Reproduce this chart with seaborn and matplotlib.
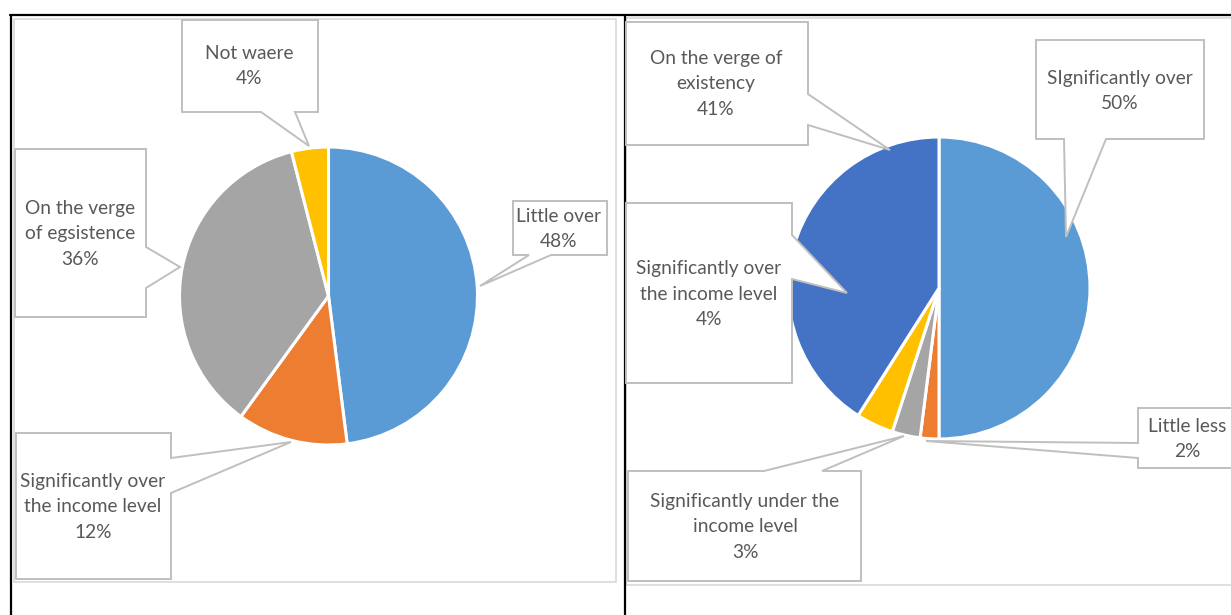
import matplotlib
matplotlib.use("Agg")
import matplotlib.pyplot as plt
from matplotlib.patches import Polygon, Rectangle
from matplotlib.lines import Line2D
import seaborn as sns

# ---------------- data ----------------
left_categories = ["Little over", "Significantly over\nthe income level",
                   "On the verge\nof egsistence", "Not waere"]
left_values = [48, 12, 36, 4]
left_colors = ["#5B9BD5", "#ED7D31", "#A5A5A5", "#FFC000"]

right_categories = ["SIgnificantly over", "Little less",
                    "Significantly under the\nincome level",
                    "Significantly over\nthe income level",
                    "On the verge of\nexistency"]
right_values = [50, 2, 3, 4, 41]
right_colors = ["#5B9BD5", "#ED7D31", "#A5A5A5", "#FFC000", "#4472C4"]

# ---------------- layout (pixels) ----------------
W, H = 1231, 615
sns.set_theme(style="white")
plt.rcParams['font.family'] = ['Lato', 'DejaVu Sans']

fig = plt.figure(figsize=(W / 100, H / 100), dpi=100)
fig.patch.set_facecolor("white")

# overlay axes in pixel coordinates (y down)
ov = fig.add_axes([0, 0, 1, 1], zorder=5)
ov.set_xlim(0, W)
ov.set_ylim(H, 0)
ov.axis("off")
ov.patch.set_alpha(0)

# background frames
bg = fig.add_axes([0, 0, 1, 1], zorder=0)
bg.set_xlim(0, W)
bg.set_ylim(H, 0)
bg.axis("off")
bg.add_patch(Rectangle((14, 19), 602, 563, fill=False, ec="#D9D9D9", lw=1.2))
bg.add_patch(Rectangle((626, 18), 620, 567, fill=False, ec="#D9D9D9", lw=1.2))
for xs, ys in [((10, W), (15, 15)), ((11, 11), (15, H)), ((625, 625), (15, H))]:
    bg.add_line(Line2D(xs, ys, color="black", lw=1.6))


def pie_axes(cx, cy, r, values, colors):
    ax = fig.add_axes([(cx - r) / W, (H - cy - r) / H, 2 * r / W, 2 * r / H], zorder=2)
    ax.pie(values, colors=colors, startangle=90, counterclock=False,
           wedgeprops=dict(edgecolor="white", linewidth=2.2))
    ax.set_xlim(-1.0, 1.0)
    ax.set_ylim(-1.0, 1.0)
    ax.set_aspect("auto")
    ax.axis("off")
    return ax


pie_axes(328.5, 296, 149, left_values, left_colors)
pie_axes(939, 288, 151, right_values, right_colors)


def callout(box, side, b1, b2, tip, text, tx, ty):
    x0, y0, x1, y1 = box
    if side == "top":
        pts = [(x0, y0), (b1, y0), tip, (b2, y0), (x1, y0), (x1, y1), (x0, y1)]
    elif side == "right":
        pts = [(x0, y0), (x1, y0), (x1, b1), tip, (x1, b2), (x1, y1), (x0, y1)]
    elif side == "bottom":
        pts = [(x0, y0), (x1, y0), (x1, y1), (b2, y1), tip, (b1, y1), (x0, y1)]
    else:
        pts = [(x0, y0), (x1, y0), (x1, y1), (x0, y1), (x0, b2), tip, (x0, b1)]
    ov.add_patch(Polygon(pts, closed=True, fc="white", ec="#BFBFBF", lw=1.4,
                         joinstyle="miter"))
    ov.text(tx, ty, text, ha="center", va="center", color="#595959",
            fontsize=13.8, linespacing=1.58)


# left pie callouts: (box, side, base1, base2, tip, text-center)
left_callouts = [
    ((513, 201, 607, 255), "bottom", 529, 551, (480, 286), (559, 229)),
    ((16, 433, 171, 579), "right", 458, 493, (291, 442), (93, 507)),
    ((15, 149, 146, 317), "right", 247, 288, (180, 267), (80, 234)),
    ((182, 20, 318, 112), "bottom", 261, 295, (309, 146), (249, 66)),
]
for (box, side, b1, b2, tip, (tx, ty)), cat, v in zip(left_callouts, left_categories, left_values):
    callout(box, side, b1, b2, tip, f"{cat}\n{v}%", tx, ty)

right_callouts = [
    ((1036, 40, 1204, 139), "bottom", 1064, 1106, (1066, 237), (1120, 91)),
    ((1138, 408, 1240, 468), "left", 443, 458, (926, 441), (1187, 439)),
    ((628, 471, 861, 581), "top", 764, 822, (904, 436), (745, 527)),
    ((626, 203, 792, 383), "right", 235, 279, (847, 293), (709, 294)),
    ((626, 22, 808, 145), "right", 94, 125, (890, 150), (716, 84)),
]
for (box, side, b1, b2, tip, (tx, ty)), cat, v in zip(right_callouts, right_categories, right_values):
    callout(box, side, b1, b2, tip, f"{cat}\n{v}%", tx, ty)

fig.savefig("out.png", dpi=100, facecolor="white")
